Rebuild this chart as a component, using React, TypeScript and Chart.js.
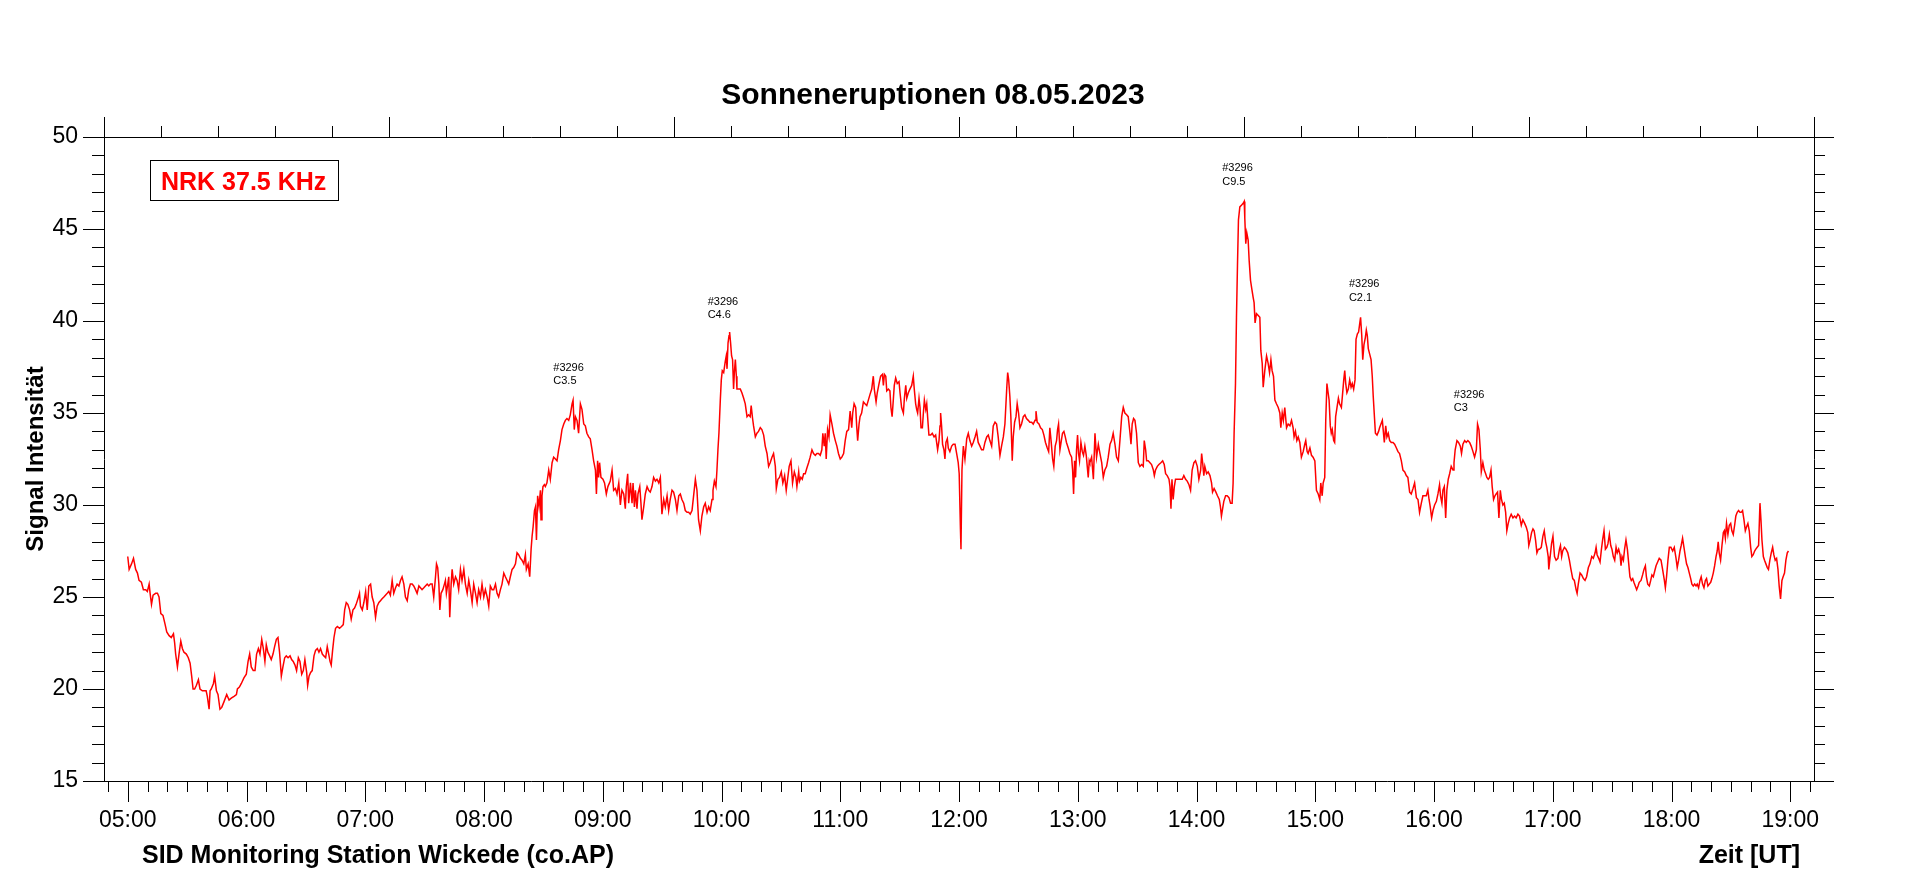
import React, { useEffect, useRef } from 'react';
import { Chart, registerables } from 'chart.js';

Chart.register(...registerables);

// ---------- data ----------
const chartTitle = 'Sonneneruptionen 08.05.2023';
const stationLabel = 'NRK 37.5 KHz';
const footerLeft = 'SID Monitoring Station Wickede (co.AP)';
const footerRight = 'Zeit [UT]';
const yAxisTitle = 'Signal Intensität';

const START_MINUTE = 300; // 05:00 UT, sample times below are minutes after 05:00

const seg0507: [number, number][] = [
  [0,27.2],[0.7,26.5],[1.9,26.8],[2.9,27.1],[4.0,26.5],[4.9,26.3],[5.7,25.9],[6.9,25.8],[7.9,25.4],[9.1,25.4],[9.9,25.3],[10.8,25.7],[11.3,25.2],[12.0,24.6],[12.8,25.1],[14.1,25.2],[15.0,25.2],[15.8,25.0],[16.7,24.1],[17.8,24.0],[18.9,23.5],[19.7,23.1],[20.9,22.9],[22.0,22.8],[23.1,23.0],[23.7,22.5],[24.2,21.9],[25.1,21.2],[25.9,21.9],[26.8,22.6],[27.6,22.2],[28.4,22.0],[29.6,21.9],[30.6,21.7],[31.5,21.4],[32.3,20.7],[33.0,20.0],[33.8,20.0],[34.7,20.2],[35.7,20.5],[36.5,20.0],[37.7,19.9],[38.5,19.9],[39.6,19.9],[40.2,19.6],[41.1,18.9],[41.6,19.9],[42.2,20.0],[43.3,20.3],[43.9,20.7],[44.8,19.9],[45.6,19.7],[46.6,18.9],[47.5,19.0],[48.6,19.3],[50.0,19.7],[51.2,19.4],[52.3,19.5],[53.7,19.6],[54.9,19.7],[55.4,20.0],[56.4,20.1],[57.4,20.3],[58.7,20.6],[59.9,20.8],[60.8,21.5],[61.6,21.9],[62.4,21.2],[63.4,21.0],[64.3,21.0],[65.1,21.9],[66.0,22.2],[66.8,21.9],[67.7,22.7],[68.5,22.2],[69.3,21.5],[70.0,22.4],[70.8,22.0],[71.7,21.8],[72.5,21.6],[73.4,21.9],[74.2,22.3],[75.1,22.7],[75.9,22.8],[76.7,22.0],[77.6,20.7],[78.4,21.2],[79.3,21.7],[80.1,21.8],[81.0,21.7],[82.0,21.8],[82.8,21.6],[83.6,21.5],[84.5,21.3],[85.3,21.0],[86.2,21.7],[87.0,21.5],[87.9,20.8],[88.7,21.0],[89.5,21.6],[90.4,20.9],[90.9,20.2],[91.6,20.7],[92.4,20.9],[93.2,21.0],[94.1,21.8],[94.9,22.1],[95.8,22.2],[96.6,22.0],[97.4,22.2],[98.3,21.9],[99.1,21.8],[100.0,21.7],[100.8,22.3],[101.7,21.8],[102.2,21.5],[102.8,21.3],[103.5,22.1],[104.2,22.8],[105.0,23.3],[105.9,23.4],[107.0,23.3],[108.0,23.4],[108.9,23.5],[109.6,24.3],[110.4,24.7],[111.2,24.6],[112.1,24.3],[112.9,23.8],[113.8,24.3],[114.6,24.4],[115.4,24.6],[116.3,24.9],[117.1,25.2],[117.6,24.5],[118.5,24.3],[119.3,24.7],[120.2,25.3],[121.0,24.3],[121.8,25.6],[122.7,25.7]
];

const seg0709: [number, number][] = [
  [123.5,25.0],[124.3,24.7],[125.2,23.9],[126.0,24.5],[126.9,24.7],[127.7,24.8],[128.5,24.9],[129.4,25.0],[130.2,25.1],[131.1,25.2],[131.9,25.3],[132.7,25.1],[133.6,25.9],[134.4,25.2],[135.3,25.5],[136.1,25.7],[137.0,25.6],[137.8,25.9],[138.6,26.1],[139.5,25.7],[140.3,25.0],[141.2,24.8],[142.0,25.4],[142.8,25.7],[143.7,25.7],[144.5,25.6],[145.4,25.4],[146.2,25.2],[147.1,25.6],[147.9,25.5],[148.7,25.4],[149.6,25.5],[150.4,25.6],[151.3,25.7],[152.1,25.6],[152.9,25.7],[153.8,25.7],[154.6,25.0],[155.5,26.1],[156.0,26.8],[156.6,26.6],[157.2,25.7],[157.7,24.3],[158.3,25.2],[159.2,25.4],[160.0,25.7],[160.5,25.9],[161.0,25.2],[161.7,25.7],[162.2,26.1],[162.7,23.9],[163.4,25.7],[163.9,26.5],[164.7,25.7],[165.6,26.1],[166.4,25.9],[167.2,25.4],[168.1,26.5],[168.9,25.9],[169.8,26.5],[170.6,25.7],[171.5,25.2],[172.3,25.9],[173.1,25.4],[174.0,24.7],[174.8,25.7],[175.7,25.2],[176.5,24.7],[177.3,25.4],[178.2,25.0],[179.0,25.7],[179.9,25.0],[180.7,25.4],[181.6,25.0],[182.4,24.5],[183.2,25.6],[184.1,25.4],[184.9,25.4],[185.8,25.7],[186.6,25.2],[187.4,25.0],[188.3,25.4],[189.1,25.7],[190.0,26.3],[190.8,26.1],[191.7,25.9],[192.5,25.7],[193.3,26.1],[194.2,26.5],[195.0,26.6],[195.9,26.8],[196.7,27.4],[197.5,27.3],[198.4,27.1],[199.2,27.0],[200.1,26.8],[200.9,27.3],[201.4,26.5],[202.3,26.8],[203.1,26.1],[203.8,27.6],[204.3,28.3],[204.8,28.8],[205.5,29.7],[206.0,29.9],[206.5,28.1],[207.1,30.5],[207.8,29.9],[208.5,30.8],[208.8,29.2],[209.3,30.5],[209.8,31.0],[210.5,31.1],[211.0,31.0],[211.8,31.2],[212.7,31.9],[213.5,31.4],[214.4,32.3],[215.2,32.6],[216.1,32.5],[216.9,32.4],[217.7,33.0],[218.6,33.5],[219.4,34.1],[220.3,34.4],[221.1,34.6],[221.9,34.7],[222.8,34.6],[223.6,34.9],[224.5,35.5],[225.0,35.7],[225.6,34.1],[226.2,34.8],[227.0,34.6],[227.8,33.9],[228.7,35.5],[229.5,35.2],[230.4,34.4],[231.2,34.3],[232.0,33.9],[232.9,33.7],[233.7,33.6],[234.6,33.0],[235.4,32.4],[236.3,31.9],[236.8,30.6],[237.4,32.4],[237.9,31.5],[238.4,32.3],[239.1,31.5],[240.1,31.4],[240.9,31.2],[241.8,30.6],[242.6,31.0],[243.8,31.3]
];

const seg0911: [number, number][] = [
  [244.7,31.9],[245.5,30.8],[246.4,30.9],[247.2,30.6],[248.1,31.2],[248.9,30.0],[249.7,30.8],[250.6,30.6],[251.4,29.8],[251.9,31.0],[252.6,31.7],[253.1,30.1],[254.0,31.2],[254.8,30.1],[255.3,31.2],[256.0,29.9],[256.5,30.8],[257.3,29.8],[257.8,30.6],[258.7,31.0],[259.3,30.1],[259.8,29.2],[260.7,29.9],[261.5,30.6],[262.4,31.0],[263.2,30.8],[264.0,30.7],[264.9,31.0],[265.7,31.5],[266.6,31.3],[267.4,31.4],[268.3,31.2],[269.1,31.5],[269.9,29.5],[270.8,30.3],[271.6,29.9],[272.5,30.5],[273.3,29.7],[274.1,30.3],[275.0,30.8],[275.8,30.7],[276.7,30.3],[277.5,29.7],[278.4,30.5],[279.2,30.6],[280.0,30.3],[280.9,30.1],[281.7,29.7],[282.6,29.6],[283.4,29.6],[284.2,29.5],[285.1,29.7],[285.9,30.5],[286.8,31.4],[287.6,30.8],[288.4,29.2],[289.3,28.6],[290.1,29.4],[291.0,29.9],[291.8,30.1],[292.7,29.6],[293.5,29.9],[294.3,29.7],[295.2,30.3],[295.7,30.8],[296.4,31.3],[297.2,31.0],[297.7,31.9],[298.2,33.0],[298.7,33.9],[299.4,35.7],[299.9,36.8],[300.4,37.3],[301.1,37.2],[301.9,37.8],[302.4,38.1],[302.8,37.4],[303.3,38.8],[303.8,39.2],[304.1,39.4],[304.6,38.8],[305.1,38.1],[305.6,37.9],[306.1,36.3],[306.5,37.2],[307.0,37.9],[307.5,37.0],[307.8,36.3],[308.6,36.3],[309.5,36.3],[310.3,36.1],[311.2,35.8],[312.0,35.5],[312.9,34.8],[313.7,34.9],[314.5,34.8],[315.0,35.4],[315.7,34.7],[316.2,34.3],[317.1,33.7],[317.9,33.9],[318.7,34.0],[319.6,34.2],[320.4,34.1],[321.3,33.8],[322.1,33.2],[323.0,32.8],[323.8,32.1],[324.6,32.3],[325.5,32.6],[326.3,32.8],[327.2,32.1],[327.7,30.9],[328.5,31.4],[329.3,31.5],[330.2,31.8],[331.0,31.2],[331.9,31.6],[332.7,30.8],[333.4,31.4],[334.2,32.1],[335.1,32.4],[335.9,31.2],[336.8,31.8],[337.6,31.5],[338.1,31.0],[339.0,31.8],[339.4,31.3],[340.1,31.5],[340.8,31.4],[341.5,31.7],[342.3,31.7],[343.1,32.0],[344.0,32.3],[344.8,32.6],[345.7,33.0],[346.5,32.8],[347.4,32.7],[348.2,32.8],[349.0,32.8],[349.9,32.7],[350.7,33.0],[351.2,33.9],[351.9,33.2],[352.4,33.9],[352.9,32.5],[353.6,34.1],[354.3,33.7],[354.9,34.9],[355.8,34.4],[356.6,33.9],[357.5,33.5],[358.3,33.2],[359.1,32.8],[360.0,32.5],[360.8,32.6],[361.7,32.8],[362.5,33.5],[363.3,34.0],[364.2,34.1],[365.0,35.1]
];

const seg1113: [number, number][] = [
  [365.8,34.2],[366.3,35.0],[367.0,35.5],[367.8,35.3],[368.3,34.3],[368.8,33.5],[369.5,34.4],[370.0,34.8],[370.8,35.0],[371.7,35.6],[372.5,35.5],[373.4,35.4],[374.2,35.7],[375.0,36.0],[375.9,36.3],[376.7,37.0],[377.2,36.3],[378.1,35.6],[378.7,36.1],[379.6,36.6],[380.4,37.0],[381.3,37.1],[381.8,36.5],[382.3,37.1],[383.0,37.0],[383.5,36.2],[384.3,36.3],[385.1,36.2],[385.6,35.3],[386.2,34.8],[386.8,35.7],[387.3,36.5],[388.0,36.9],[388.8,36.6],[389.7,36.7],[390.2,36.1],[391.0,35.3],[391.9,35.0],[392.4,35.8],[393.1,36.5],[393.6,35.8],[394.4,36.1],[395.2,36.3],[396.1,36.5],[396.9,37.0],[397.4,36.3],[398.1,35.5],[398.6,35.2],[399.1,35.0],[399.8,35.8],[400.3,35.3],[400.8,34.2],[401.5,34.2],[402.0,35.0],[402.5,35.7],[403.2,35.2],[403.7,35.5],[404.2,34.7],[404.8,33.8],[405.7,33.8],[406.5,33.9],[407.4,33.7],[408.2,33.8],[408.7,33.4],[409.2,33.0],[409.9,33.5],[410.4,34.3],[410.7,35.0],[411.2,34.3],[411.7,33.3],[412.4,33.0],[412.9,32.5],[413.4,33.4],[414.1,33.6],[414.6,33.1],[415.4,32.9],[416.3,33.2],[417.1,33.3],[418.0,33.3],[418.8,32.8],[419.6,32.3],[420.1,31.7],[420.7,28.8],[421.0,27.6],[421.5,31.9],[422.2,33.2],[423.0,32.5],[423.9,33.6],[424.7,33.9],[425.5,33.5],[426.4,33.2],[427.2,33.4],[428.1,33.7],[428.9,34.0],[429.7,33.4],[430.6,33.2],[431.4,33.0],[432.3,33.0],[433.1,33.4],[434.0,33.7],[434.8,33.8],[435.6,33.5],[436.5,33.2],[437.3,34.3],[438.2,34.5],[439.0,34.4],[439.8,33.7],[440.7,32.7],[441.5,33.2],[442.4,33.7],[443.2,34.4],[444.1,36.3],[444.6,37.2],[445.1,36.8],[445.7,35.9],[446.2,34.8],[446.9,32.4],[447.4,33.7],[448.1,34.5],[448.8,34.8],[449.4,35.5],[450.1,35.0],[450.8,34.2],[451.6,34.4],[452.5,34.8],[453.3,34.9],[454.1,34.7],[455.0,34.6],[455.8,34.5],[456.7,34.5],[457.5,34.4],[458.4,34.6],[458.9,35.1],[459.5,34.5],[460.4,34.4],[461.2,34.2],[462.1,34.1],[462.9,33.8],[463.7,33.4],[464.6,33.1],[465.3,32.9],[465.9,34.2],[466.6,33.4],[467.3,32.5],[467.9,32.1],[468.6,33.2],[469.3,33.5],[469.8,34.1],[470.3,34.4],[471.0,33.0],[471.7,33.5],[472.3,33.9],[473.0,34.0],[473.7,33.7],[474.3,33.4],[475.2,33.1],[476.0,32.8],[476.9,32.6],[477.4,31.9],[477.9,30.6],[478.4,32.4],[478.9,31.5],[479.4,33.0],[479.9,33.8],[480.4,32.8],[480.9,32.4],[481.6,33.4],[482.3,32.9],[482.9,32.7],[483.6,33.2],[484.3,32.7],[484.8,32.1],[485.3,31.5],[485.8,32.4],[486.1,32.3]
];

const seg1315: [number, number][] = [
  [487.0,32.6],[487.9,31.4],[488.7,33.9],[489.5,32.6],[490.4,33.3],[491.2,32.8],[492.1,32.3],[492.9,31.5],[493.7,31.9],[494.6,32.1],[495.4,32.6],[496.3,33.3],[497.1,33.5],[497.9,33.9],[498.8,33.3],[499.6,32.6],[500.5,32.4],[501.3,33.5],[502.2,34.8],[503.0,35.3],[503.8,35.0],[504.7,34.9],[505.5,34.8],[506.4,33.9],[506.9,33.3],[507.5,34.4],[508.2,34.7],[508.9,34.6],[509.7,33.9],[510.6,32.3],[511.4,32.1],[512.3,32.2],[513.1,32.1],[513.6,33.5],[514.3,33.0],[514.8,32.4],[515.6,32.4],[516.5,32.3],[517.3,32.2],[518.2,31.9],[518.7,31.6],[519.3,31.9],[520.2,32.1],[521.0,32.2],[522.0,32.3],[522.9,32.4],[523.7,32.2],[524.4,31.7],[525.2,31.6],[526.1,31.4],[526.6,31.0],[527.1,29.8],[527.6,31.4],[528.2,30.3],[528.8,31.0],[529.4,31.4],[530.3,31.4],[531.1,31.4],[532.0,31.4],[532.8,31.4],[533.6,31.6],[534.5,31.4],[535.3,31.3],[536.2,31.1],[537.0,30.8],[537.8,31.9],[538.7,32.3],[539.5,32.4],[540.4,32.1],[541.2,31.4],[542.1,31.9],[542.6,32.8],[543.1,32.3],[543.7,31.6],[544.2,32.1],[545.1,31.7],[545.9,31.8],[546.8,31.6],[547.6,31.2],[548.1,30.7],[548.9,30.9],[549.8,30.7],[550.6,30.5],[551.5,30.3],[552.1,29.9],[552.6,29.4],[553.2,29.8],[553.8,30.2],[554.7,30.5],[555.5,30.5],[556.4,30.4],[557.2,30.1],[558.0,30.1],[558.5,31.2],[559.0,33.9],[559.7,36.6],[560.2,40.2],[560.7,43.0],[561.2,45.5],[561.9,46.2],[562.8,46.3],[563.6,46.4],[564.1,46.5],[564.4,45.6],[564.9,44.2],[565.4,44.8],[566.1,44.4],[566.6,43.3],[567.3,42.2],[568.0,41.7],[568.6,41.3],[569.1,41.0],[569.6,39.9],[570.3,40.4],[571.2,40.3],[572.0,40.2],[572.5,38.4],[573.2,37.7],[573.7,36.4],[574.5,37.3],[575.4,38.1],[576.2,37.7],[576.9,37.2],[577.6,37.9],[578.2,37.3],[578.9,37.0],[579.6,35.7],[580.4,35.5],[581.3,35.3],[582.1,35.0],[582.6,34.2],[583.3,35.0],[583.9,34.6],[584.6,35.3],[585.5,34.2],[586.3,34.4],[587.2,34.3],[588.0,34.6],[588.8,34.2],[589.3,33.7],[590.0,34.0],[590.7,33.5],[591.4,33.7],[592.2,33.4],[593.0,32.6],[593.9,32.9],[594.7,33.3],[595.2,33.5],[595.9,32.9],[596.4,32.8],[597.3,33.1],[598.1,32.7],[598.9,32.6],[599.8,32.4],[600.6,30.8],[601.5,30.6],[602.3,30.3],[602.8,31.2],[603.5,30.5],[604.0,31.2],[604.8,31.5]
];

const seg1517: [number, number][] = [
  [605.3,34.6],[605.9,36.6],[606.5,36.1],[607.0,35.7],[607.6,34.3],[608.1,33.9],[608.6,34.1],[609.3,33.5],[609.8,33.4],[610.3,34.8],[611.0,35.3],[611.7,35.8],[612.3,35.5],[613.2,35.3],[613.7,35.9],[614.4,36.8],[614.9,37.3],[615.4,36.6],[616.0,36.1],[616.7,36.3],[617.4,36.8],[618.1,36.4],[618.7,36.6],[619.4,36.3],[620.1,36.8],[620.6,39.0],[621.3,39.3],[621.9,39.4],[622.4,39.8],[622.9,40.2],[623.5,39.2],[624.0,37.9],[624.6,38.7],[625.3,39.1],[625.8,39.5],[626.3,39.2],[626.8,38.5],[627.5,38.2],[628.2,37.9],[628.8,37.0],[629.3,35.9],[629.9,34.8],[630.4,33.9],[631.2,33.8],[632.0,34.0],[632.5,34.2],[633.2,34.4],[633.9,34.6],[634.4,34.0],[634.9,33.4],[635.6,34.3],[636.2,33.7],[636.9,33.9],[637.6,33.5],[638.4,33.4],[639.3,33.4],[640.1,33.3],[641.0,33.1],[641.8,32.9],[642.6,32.8],[643.5,32.4],[644.3,31.9],[645.2,31.8],[646.0,31.6],[646.8,31.5],[647.7,30.7],[648.5,30.6],[649.4,30.9],[650.2,31.2],[651.1,30.4],[651.9,30.3],[652.7,29.6],[653.6,30.1],[654.4,30.5],[655.3,30.5],[656.1,30.5],[656.9,30.8],[657.5,30.3],[658.1,29.9],[658.8,29.3],[659.5,29.7],[660.3,30.0],[661.2,30.2],[662.0,30.6],[662.8,31.1],[663.3,30.5],[664.0,30.1],[664.5,30.8],[665.2,31.0],[665.9,29.3],[666.5,30.8],[667.2,31.4],[667.9,31.7],[668.7,32.1],[669.6,31.9],[670.1,32.3],[670.7,33.0],[671.6,33.5],[672.4,33.4],[673.3,33.2],[673.9,32.8],[674.6,33.3],[675.5,33.5],[676.3,33.4],[677.1,33.5],[678.0,33.4],[678.8,33.2],[679.7,32.9],[680.5,32.6],[681.4,33.0],[682.0,34.4],[682.7,34.1],[683.4,33.0],[683.9,31.8],[684.7,32.3],[685.4,31.9],[686.1,31.7],[686.7,31.5],[687.4,31.4],[688.1,31.5],[688.8,31.9],[689.4,31.0],[690.1,30.3],[690.8,30.5],[691.4,30.6],[692.1,30.7],[692.8,29.3],[693.5,30.8],[694.1,30.3],[694.8,30.0],[695.5,30.1],[696.2,29.6],[696.8,28.6],[697.5,29.0],[698.2,29.3],[699.0,29.5],[699.9,29.3],[700.7,29.4],[701.5,29.3],[702.4,29.5],[703.2,29.4],[704.1,28.9],[704.9,29.2],[705.8,29.0],[706.6,28.8],[707.4,28.5],[707.9,27.8],[708.6,28.1],[709.3,28.5],[710.0,28.7],[710.6,28.6],[711.3,28.1],[712.0,27.4],[712.7,27.6],[713.3,27.6],[714.2,27.7],[715.0,28.3],[715.7,28.6],[716.4,28.0],[717.0,27.7],[717.7,27.2],[718.0,26.5],[718.7,27.2],[719.4,27.9],[720.1,28.3],[720.9,27.2],[721.7,27.0],[722.6,27.1],[723.4,27.6]
];

const seg1719: [number, number][] = [
  [723.9,27.8],[724.5,27.2],[725.0,27.5],[725.9,27.7],[726.7,27.6],[727.6,27.4],[728.4,27.0],[729.2,26.5],[730.1,26.0],[730.9,25.9],[731.8,25.4],[732.3,25.2],[732.9,25.7],[733.8,26.3],[734.6,26.2],[735.5,26.0],[736.3,25.9],[737.1,26.1],[738.0,26.6],[738.8,26.8],[739.7,27.2],[740.5,27.1],[741.4,27.4],[741.9,27.7],[742.4,27.3],[743.2,27.1],[743.9,26.9],[744.6,27.6],[745.2,28.1],[745.9,28.6],[746.6,27.6],[747.3,27.7],[747.9,27.9],[748.6,28.4],[749.3,27.8],[749.9,27.6],[750.6,27.2],[751.3,27.0],[752.0,27.7],[752.6,27.4],[753.3,27.6],[754.0,27.3],[754.5,26.7],[755.0,27.2],[755.7,27.0],[756.3,27.6],[757.0,28.1],[757.7,27.6],[758.4,26.8],[759.0,26.1],[759.7,25.9],[760.4,26.0],[761.0,25.8],[761.7,25.6],[762.4,25.4],[763.1,25.6],[763.7,25.8],[764.6,25.9],[765.4,26.2],[766.1,26.5],[766.8,26.7],[767.3,26.1],[768.0,25.7],[768.8,25.6],[769.5,25.9],[770.1,26.2],[770.8,26.1],[771.5,26.4],[772.2,26.7],[773.0,26.9],[773.8,27.1],[774.7,27.0],[775.5,26.5],[776.4,25.9],[776.9,25.5],[777.5,26.1],[778.2,27.0],[778.9,27.7],[779.7,27.7],[780.6,27.5],[781.4,27.7],[782.3,27.1],[782.9,26.6],[783.6,27.0],[784.3,27.5],[784.9,27.8],[785.6,28.2],[786.3,27.7],[787.0,27.2],[787.6,26.8],[788.3,26.6],[789.0,26.3],[789.7,26.0],[790.3,25.7],[791.0,25.6],[791.7,25.7],[792.4,25.6],[793.0,25.7],[793.7,25.5],[794.4,25.9],[795.0,26.1],[795.7,25.7],[796.4,25.5],[797.1,25.9],[797.7,26.0],[798.4,25.6],[799.1,25.7],[799.8,25.8],[800.4,26.0],[801.1,26.3],[801.8,26.7],[802.5,27.2],[803.1,27.5],[803.6,28.0],[804.1,27.4],[804.8,27.0],[805.5,27.8],[806.2,28.5],[806.7,28.6],[807.2,28.2],[807.8,29.0],[808.5,28.4],[809.2,28.9],[809.9,29.0],[810.5,28.6],[811.2,28.4],[811.9,28.9],[812.5,29.4],[813.2,29.6],[813.9,29.7],[814.6,29.6],[815.2,29.6],[815.9,29.7],[816.6,29.2],[817.3,28.6],[817.9,28.8],[818.6,29.0],[819.3,28.6],[820.0,27.7],[820.6,27.2],[821.3,27.3],[822.0,27.5],[822.6,27.6],[823.3,27.7],[824.0,27.8],[824.7,30.1],[825.2,29.2],[825.7,28.1],[826.4,27.2],[827.0,27.0],[827.7,26.8],[828.4,26.6],[829.0,26.5],[829.7,27.0],[830.4,27.4],[831.1,27.7],[831.7,27.3],[832.4,27.0],[833.1,27.1],[833.8,26.5],[834.4,25.6],[835.1,24.9],[835.8,25.9],[836.4,26.1],[837.1,26.3],[837.8,27.0],[838.5,27.4],[839.1,27.5]
];

const hourLabels = ['05:00','06:00','07:00','08:00','09:00','10:00','11:00','12:00','13:00','14:00','15:00','16:00','17:00','18:00','19:00'];
const yTickLabels = ['15','20','25','30','35','40','45','50'];

// flare annotations: time (minutes since midnight), signal level of the label, region, class
const flareTimes = [515, 593, 853, 917, 970];
const flareLabelValues = [37.45, 41.05, 48.3, 42.0, 36.0];
const flareRegions = ['#3296', '#3296', '#3296', '#3296', '#3296'];
const flareClasses = ['C3.5', 'C4.6', 'C9.5', 'C2.1', 'C3'];

// ---------- styling ----------
const FONT = '"Liberation Sans", Arial, sans-serif';
const RED = '#ff0000';

const frameTicksPlugin = {
  id: 'frameTicks',
  afterDraw(chart: any) {
    const { ctx, scales } = chart;
    const x = scales.x, y = scales.y, xt = scales.xTop, yr = scales.yRight;
    const a = (v: number) => Math.round(v) + 0.5;
    ctx.save();
    ctx.strokeStyle = '#000';
    ctx.lineWidth = 1;
    ctx.beginPath();
    x.ticks.forEach((t: any) => {
      const px = a(x.getPixelForValue(t.value));
      const len = t.value % 60 === 0 ? 21 : 11;
      ctx.moveTo(px, x.top);
      ctx.lineTo(px, x.top + len);
    });
    xt.ticks.forEach((t: any, i: number) => {
      const px = a(xt.getPixelForValue(t.value));
      const len = i % 5 === 0 ? 20 : 11;
      ctx.moveTo(px, xt.bottom);
      ctx.lineTo(px, xt.bottom - len);
    });
    y.ticks.forEach((t: any) => {
      const py = a(y.getPixelForValue(t.value));
      const len = t.value % 5 === 0 ? 21 : 12;
      ctx.moveTo(y.right, py);
      ctx.lineTo(y.right - len, py);
    });
    yr.ticks.forEach((t: any) => {
      const py = a(yr.getPixelForValue(t.value));
      const len = t.value % 5 === 0 ? 20 : 11;
      ctx.moveTo(yr.left, py);
      ctx.lineTo(yr.left + len, py);
    });
    ctx.stroke();
    ctx.restore();
  },
};

const overlayPlugin = {
  id: 'overlay',
  afterDraw(chart: any) {
    const { ctx, chartArea, scales } = chart;
    ctx.save();
    // station legend box
    const bx = chartArea.left + 46;
    const by = chartArea.top + 23;
    ctx.fillStyle = '#fff';
    ctx.fillRect(bx, by, 188, 40);
    ctx.strokeStyle = '#000';
    ctx.lineWidth = 1;
    ctx.strokeRect(bx + 0.5, by + 0.5, 188, 40);
    ctx.fillStyle = RED;
    ctx.font = `bold 25px ${FONT}`;
    ctx.textAlign = 'left';
    ctx.textBaseline = 'alphabetic';
    ctx.fillText(stationLabel, bx + 11, by + 30);

    // flare annotations
    ctx.fillStyle = '#000';
    ctx.font = `11px ${FONT}`;
    ctx.textBaseline = 'middle';
    flareTimes.forEach((t, i) => {
      const px = scales.x.getPixelForValue(t);
      const py = scales.y.getPixelForValue(flareLabelValues[i]);
      ctx.fillText(flareRegions[i], px, py);
      ctx.fillText(flareClasses[i], px, py + 13.5);
    });

    // footer texts
    ctx.font = `bold 25px ${FONT}`;
    ctx.textBaseline = 'alphabetic';
    ctx.textAlign = 'left';
    ctx.fillText(footerLeft, chartArea.left + 38, 863);
    ctx.textAlign = 'right';
    ctx.fillText(footerRight, chartArea.right - 14, 863);
    ctx.restore();
  },
};

export default function App() {
  const canvasRef = useRef<HTMLCanvasElement | null>(null);

  useEffect(() => {
    if (!canvasRef.current) return;
    const points = [seg0507, seg0709, seg0911, seg1113, seg1315, seg1517, seg1719]
      .flat()
      .map(([m, v]) => ({ x: START_MINUTE + m, y: v }));

    const xTickValues: { value: number }[] = [];
    for (let m = 290; m <= 1150; m += 10) xTickValues.push({ value: m });
    const yTickValues: { value: number }[] = [];
    for (let v = 15; v <= 50; v += 1) yTickValues.push({ value: v });
    const topTickValues: { value: number }[] = [];
    for (let k = 0; k <= 30; k += 1) topTickValues.push({ value: k / 5 });

    const chart = new Chart(canvasRef.current, {
      type: 'line',
      data: {
        datasets: [
          {
            label: stationLabel,
            data: points,
            borderColor: RED,
            borderWidth: 1.5,
            pointRadius: 0,
            tension: 0,
            fill: false,
          },
        ],
      },
      plugins: [frameTicksPlugin, overlayPlugin],
      options: {
        animation: false,
        responsive: true,
        maintainAspectRatio: false,
        layout: { padding: { left: 0, right: 54, top: 0, bottom: 0 } },
        plugins: {
          legend: { display: false },
          tooltip: { enabled: false },
          title: {
            display: true,
            text: chartTitle,
            color: '#000',
            font: { family: FONT, size: 30, weight: 'bold' },
            padding: { top: 77.5, bottom: 0 },
          },
        },
        scales: {
          x: {
            type: 'linear',
            position: 'bottom',
            min: 288,
            max: 1152,
            afterBuildTicks: (scale: any) => { scale.ticks = xTickValues.map((t) => ({ ...t })); },
            afterFit: (scale: any) => { scale.height = 98; },
            ticks: {
              autoSkip: false,
              maxRotation: 0,
              minRotation: 0,
              padding: 26,
              color: '#000',
              font: { family: FONT, size: 23 },
              callback: (value: any) => {
                const v = Number(value);
                return v % 60 === 0 ? hourLabels[(v - START_MINUTE) / 60] ?? '' : '';
              },
            },
            grid: { display: false, drawTicks: false },
            border: { display: true, color: '#000', width: 1 },
          },
          xTop: {
            type: 'linear',
            position: 'top',
            min: 0,
            max: 6,
            afterBuildTicks: (scale: any) => { scale.ticks = topTickValues.map((t) => ({ ...t })); },
            afterFit: (scale: any) => { scale.height = 23.5; },
            ticks: { display: false },
            grid: { display: false, drawTicks: false },
            border: { display: true, color: '#000', width: 1 },
          },
          y: {
            type: 'linear',
            position: 'left',
            min: 15,
            max: 50,
            afterBuildTicks: (scale: any) => { scale.ticks = yTickValues.map((t) => ({ ...t })); },
            afterFit: (scale: any) => { scale.width = 104; },
            ticks: {
              autoSkip: false,
              padding: 26,
              color: '#000',
              font: { family: FONT, size: 23 },
              callback: (value: any) => {
                const v = Number(value);
                return v % 5 === 0 ? yTickLabels[(v - 15) / 5] ?? '' : '';
              },
            },
            title: {
              display: true,
              text: yAxisTitle,
              color: '#000',
              font: { family: FONT, size: 24, weight: 'bold' },
              padding: { top: 22, bottom: 0 },
            },
            grid: { display: false, drawTicks: false },
            border: { display: true, color: '#000', width: 1 },
          },
          yRight: {
            type: 'linear',
            position: 'right',
            min: 15,
            max: 50,
            afterBuildTicks: (scale: any) => { scale.ticks = yTickValues.map((t) => ({ ...t })); },
            afterFit: (scale: any) => { scale.width = 52; },
            ticks: { display: false },
            grid: { display: false, drawTicks: false },
            border: { display: true, color: '#000', width: 1 },
          },
        },
      },
    } as any);

    return () => chart.destroy();
  }, []);

  return (
    <div style={{ position: 'fixed', left: 0, top: 0, width: 1920, height: 879, background: '#fff' }}>
      <canvas ref={canvasRef} />
    </div>
  );
}
